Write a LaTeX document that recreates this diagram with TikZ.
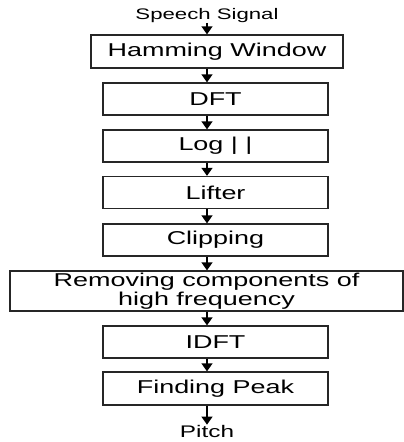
\documentclass[tikz,border=0pt]{standalone}
\usepackage{fontspec}
\setmainfont[FakeStretch=1.45]{Liberation Sans}
\usepackage{tikz}
\usetikzlibrary{calc,positioning,arrows.meta}

\begin{document}
\begin{tikzpicture}[x=1pt,y=1pt,blk/.style={draw=black!85,line width=1.3pt,rectangle,inner sep=0pt,minimum height=32pt,font=\fontsize{18.6}{19}\selectfont},lbl/.style={inner sep=0pt,font=\fontsize{15.3}{17}\selectfont},arr/.style={-{Triangle[width=11pt,length=8pt]},line width=1.3pt}]
  \useasboundingbox (0,0) rectangle (404,-442);
  \coordinate (ax) at (207,0);

  \node[lbl] (sig) at (207,-15.5) {Speech Signal};
  \node[blk,minimum width=252pt,minimum height=33pt] (ham) at (217,-51.5) {Hamming Window};
  \node[blk,minimum width=225pt] (dft) at (215.5,-99) {DFT};
  \node[blk,minimum width=225pt] (log) at (215.5,-146) {Log | |};
  \node[blk,minimum width=225pt] (lif) at (215.5,-192.5) {Lifter};
  \node[blk,minimum width=225pt] (clip) at (215.5,-240) {Clipping};
  \node[blk,minimum width=393pt,minimum height=40pt,align=center] (rem) at (206.5,-291) {Removing components of\\high frequency};
  \node[blk,minimum width=225pt] (idft) at (215.5,-342) {IDFT};
  \node[blk,minimum width=225pt,minimum height=33pt] (peak) at (215.5,-388.5) {Finding Peak};
  \node[lbl,font=\fontsize{16.8}{18}\selectfont] (pitch) at (207,-431) {Pitch};

  \draw[arr] (sig.south -| ax) -- (ham.north -| ax);
  \draw[arr] (ham.south -| ax) -- (dft.north -| ax);
  \draw[arr] (dft.south -| ax) -- (log.north -| ax);
  \draw[arr] (log.south -| ax) -- (lif.north -| ax);
  \draw[arr] (lif.south -| ax) -- (clip.north -| ax);
  \draw[arr] (clip.south -| ax) -- (rem.north -| ax);
  \draw[arr] (rem.south -| ax) -- (idft.north -| ax);
  \draw[arr] (idft.south -| ax) -- (peak.north -| ax);
  \draw[arr] (peak.south -| ax) -- (pitch.north -| ax);
\end{tikzpicture}
\end{document}
